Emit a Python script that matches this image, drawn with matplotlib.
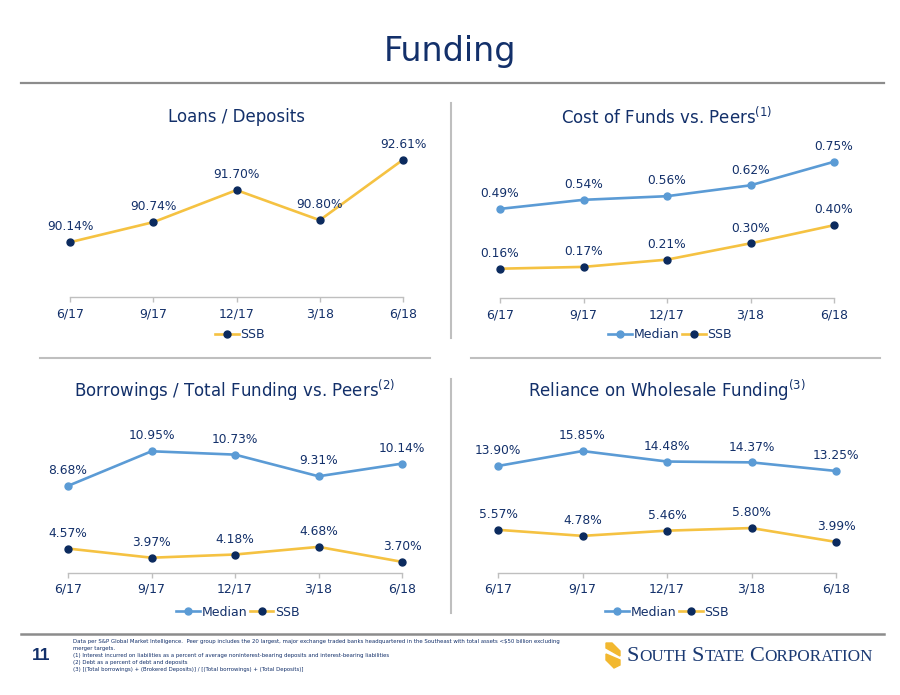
import matplotlib
matplotlib.use("Agg")
import matplotlib.pyplot as plt
from matplotlib.lines import Line2D
from matplotlib.patches import Polygon

# data
periods = ["6/17", "9/17", "12/17", "3/18", "6/18"]

loans_ssb = [90.14, 90.74, 91.70, 90.80, 92.61]

cost_median = [0.49, 0.54, 0.56, 0.62, 0.75]
cost_ssb = [0.16, 0.17, 0.21, 0.30, 0.40]

borrow_median = [8.68, 10.95, 10.73, 9.31, 10.14]
borrow_ssb = [4.57, 3.97, 4.18, 4.68, 3.70]

wholesale_median = [13.90, 15.85, 14.48, 14.37, 13.25]
wholesale_ssb = [5.57, 4.78, 5.46, 5.80, 3.99]

footnotes = [
    "Data per S&P Global Market Intelligence.  Peer group includes the 20 largest, major exchange traded banks "
    "headquartered in the Southeast with total assets <$50 billion excluding",
    "merger targets.",
    "(1) Interest incurred on liabilities as a percent of average noninterest-bearing deposits and interest-bearing liabilities",
    "(2) Debt as a percent of debt and deposits",
    "(3) [(Total borrowings) + (Brokered Deposits)] / [(Total borrowings) + (Total Deposits)]",
]

NAVY = "#13306a"
MEDIAN = "#5b9bd5"
GOLD = "#f5c242"
DOT = "#0b2a5e"
GRID = "#bfbfbf"

W, H = 900, 695
fig = plt.figure(figsize=(W / 100, H / 100), dpi=100)
plt.rcParams["font.family"] = "DejaVu Sans"


def fx(x):
    return x / W


def fy(y):
    return 1 - y / H


def hline(y, x0, x1, color, lw):
    fig.add_artist(Line2D([fx(x0), fx(x1)], [fy(y), fy(y)], color=color, lw=lw))


def vline(x, y0, y1, color, lw):
    fig.add_artist(Line2D([fx(x), fx(x)], [fy(y0), fy(y1)], color=color, lw=lw))


def panel(box, ylim, series, title, title_xy, legend_xy):
    left, right, top, bottom = box
    ax = fig.add_axes([fx(left), fy(bottom), fx(right - left), (bottom - top) / H])
    x = list(range(len(periods)))
    handles = []
    for name, vals, lc, mc, fmt in series:
        h, = ax.plot(x, vals, color=lc, lw=1.9, marker="o", ms=5,
                     mfc=mc, mec=mc, label=name, clip_on=False)
        handles.append(h)
        for xi, v in zip(x, vals):
            ax.annotate(fmt.format(v) + "%", (xi, v), xytext=(0, 11),
                        textcoords="offset points", ha="center", va="center",
                        fontsize=8.8, color=NAVY)
    ax.set_xlim(0, len(periods) - 1)
    ax.set_ylim(*ylim)
    ax.set_xticks(x)
    ax.set_xticklabels(periods)
    ax.set_yticks([])
    for s in ["top", "left", "right"]:
        ax.spines[s].set_visible(False)
    ax.spines["bottom"].set_color(GRID)
    ax.spines["bottom"].set_linewidth(1.0)
    ax.tick_params(axis="x", length=3.5, color=GRID, width=1.0, pad=4,
                   labelsize=9, labelcolor=NAVY)
    ax.patch.set_visible(False)
    fig.text(fx(title_xy[0]), fy(title_xy[1]), title, ha="center", va="center",
             fontsize=12, color=NAVY)
    fig.legend(handles=handles, loc="center", bbox_to_anchor=(fx(legend_xy[0]), fy(legend_xy[1])),
               ncol=len(handles), frameon=False, fontsize=9, labelcolor=NAVY,
               handlelength=1.9, handletextpad=0.15, columnspacing=0.2,
               borderpad=0, borderaxespad=0)
    return ax


panel((70, 403, 140, 297), (88.5, 93.2),
      [("SSB", loans_ssb, GOLD, DOT, "{:.2f}")],
      "Loans / Deposits", (237, 117), (240, 335))

panel((500, 834, 140, 297.7), (0, 0.87),
      [("Median", cost_median, MEDIAN, MEDIAN, "{:.2f}"),
       ("SSB", cost_ssb, GOLD, DOT, "{:.2f}")],
      "Cost of Funds vs. Peers$^{(1)}$", (667, 117), (670, 335))

panel((68, 402, 420, 572.5), (3, 13),
      [("Median", borrow_median, MEDIAN, MEDIAN, "{:.2f}"),
       ("SSB", borrow_ssb, GOLD, DOT, "{:.2f}")],
      "Borrowings / Total Funding vs. Peers$^{(2)}$", (235, 390), (238, 612))

panel((498, 836, 420, 572.5), (0, 19.9),
      [("Median", wholesale_median, MEDIAN, MEDIAN, "{:.2f}"),
       ("SSB", wholesale_ssb, GOLD, DOT, "{:.2f}")],
      "Reliance on Wholesale Funding$^{(3)}$", (667, 390), (667, 612))

# page title and separators
fig.text(0.5, fy(52), "Funding", ha="center", va="center", fontsize=24, color=NAVY)
hline(82.5, 21, 884, "#8c8c8c", 1.6)
vline(450.5, 103, 338, GRID, 1.5)
hline(358, 40, 430, GRID, 1.5)
hline(358, 471, 880, GRID, 1.5)
vline(450.5, 379, 613, GRID, 1.5)
hline(634, 21, 884, "#8c8c8c", 1.8)

# footer
fig.text(fx(41), fy(655), "11", ha="center", va="center", fontsize=12.5,
         color=NAVY, family="Liberation Sans", weight="bold")
for i, line in enumerate(footnotes):
    fig.text(fx(73), fy(641 + i * 7.1), line, ha="left", va="center",
             fontsize=3.9, color=NAVY)

# logo mark
fig.add_artist(Polygon([(fx(606), fy(643)), (fx(612), fy(643)), (fx(620), fy(651)),
                        (fx(620), fy(656)), (fx(606), fy(648))], closed=True,
                       color="#f2b830", transform=fig.transFigure))
fig.add_artist(Polygon([(fx(606), fy(654)), (fx(620), fy(660)), (fx(620), fy(665)),
                        (fx(614), fy(668)), (fx(606), fy(660))], closed=True,
                       color="#f2b830", transform=fig.transFigure))

# logo text in small caps
renderer = fig.canvas.get_renderer()
xpos = fx(627)
for word in ["SOUTH", "STATE", "CORPORATION"]:
    for piece, size in [(word[0], 16), (word[1:], 12.3)]:
        t = fig.text(xpos, fy(661), piece, ha="left", va="baseline",
                     fontsize=size, color="#1b3a73", family="Liberation Serif")
        bb = t.get_window_extent(renderer=renderer)
        xpos += bb.width / W
    xpos += 5 / W

fig.savefig("out.png", dpi=100)
